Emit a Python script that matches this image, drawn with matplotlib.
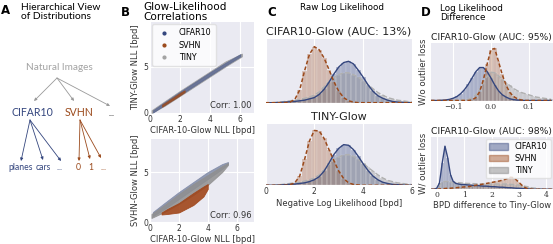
import matplotlib
matplotlib.use('Agg')
import matplotlib.pyplot as plt
from matplotlib.lines import Line2D
from matplotlib.patches import Patch
import numpy as np

# ---- colours
C_CIFAR = '#34467e'
C_SVHN = '#9b4a1c'
C_TINY = '#a3a3a3'

# ---- panel B: scatter bands (x, lower edge, upper edge)
b1_cifar_x = [0.2, 1.0, 2.0, 3.0, 4.0, 5.0, 6.0]
b1_cifar_lo = [0.05, 0.9, 1.95, 3.0, 4.05, 5.1, 6.1]
b1_cifar_hi = [0.3, 1.2, 2.3, 3.35, 4.4, 5.4, 6.35]
b1_tiny_x = [0.1, 1.0, 2.0, 3.0, 4.0, 5.0, 6.1]
b1_tiny_lo = [0.0, 0.8, 1.85, 2.9, 3.95, 5.0, 6.1]
b1_tiny_hi = [0.3, 1.3, 2.4, 3.45, 4.5, 5.55, 6.4]
b1_svhn_x = [0.8, 1.2, 1.6, 2.0, 2.3]
b1_svhn_lo = [0.68, 1.1, 1.5, 1.92, 2.25]
b1_svhn_hi = [0.9, 1.32, 1.75, 2.18, 2.45]

b2_cifar_x = [0.2, 1.0, 2.0, 3.0, 4.0, 5.0, 5.4]
b2_cifar_lo = [0.6, 1.3, 2.3, 3.3, 4.3, 5.3, 5.8]
b2_cifar_hi = [1.0, 1.9, 3.0, 4.0, 5.0, 5.8, 6.0]
b2_tiny_x = [0.1, 1.0, 2.0, 3.0, 4.0, 5.0, 5.4]
b2_tiny_lo = [0.4, 1.0, 1.8, 2.7, 3.7, 5.0, 5.7]
b2_tiny_hi = [0.8, 1.7, 2.8, 3.8, 4.7, 5.6, 5.9]
b2_svhn_x = [0.8, 1.2, 2.0, 3.0, 3.7, 4.0]
b2_svhn_lo = [0.75, 0.8, 0.95, 1.7, 2.55, 3.3]
b2_svhn_hi = [0.95, 1.3, 1.9, 2.9, 3.55, 3.8]

# ---- panel C: raw NLL histograms / density (relative heights)
c_x = [0.0, 0.2, 0.4, 0.6, 0.8, 1.0, 1.2, 1.4, 1.6, 1.8, 2.0, 2.2, 2.4, 2.6, 2.8, 3.0,
       3.2, 3.4, 3.6, 3.8, 4.0, 4.2, 4.4, 4.6, 4.8, 5.0, 5.2, 5.4, 5.6, 5.8, 6.0]
c1_cifar = [0, 0, 0, 0.005, 0.01, 0.015, 0.02, 0.03, 0.04, 0.06, 0.08, 0.13, 0.21, 0.32, 0.45, 0.56,
            0.63, 0.65, 0.61, 0.51, 0.40, 0.28, 0.18, 0.11, 0.07, 0.04, 0.02, 0.01, 0.005, 0, 0]
c1_svhn = [0, 0, 0, 0, 0, 0.01, 0.05, 0.2, 0.5, 0.76, 0.88, 0.83, 0.7, 0.52, 0.33, 0.18,
           0.08, 0.03, 0.01, 0, 0, 0, 0, 0, 0, 0, 0, 0, 0, 0, 0]
c1_tiny = [0, 0, 0.005, 0.01, 0.02, 0.03, 0.04, 0.05, 0.07, 0.09, 0.12, 0.17, 0.25, 0.33, 0.39, 0.44,
           0.47, 0.47, 0.44, 0.40, 0.34, 0.28, 0.22, 0.16, 0.12, 0.08, 0.06, 0.04, 0.03, 0.02, 0.01]
c2_cifar = [0, 0, 0, 0.005, 0.01, 0.015, 0.02, 0.03, 0.04, 0.06, 0.09, 0.14, 0.23, 0.36, 0.5, 0.6,
            0.66, 0.65, 0.58, 0.47, 0.35, 0.24, 0.15, 0.09, 0.05, 0.03, 0.015, 0.01, 0.005, 0, 0]
c2_svhn = [0, 0, 0, 0, 0, 0.01, 0.04, 0.15, 0.42, 0.72, 0.89, 0.88, 0.76, 0.58, 0.4, 0.23,
           0.11, 0.04, 0.015, 0.005, 0, 0, 0, 0, 0, 0, 0, 0, 0, 0, 0]
c2_tiny = [0, 0, 0.005, 0.01, 0.02, 0.03, 0.04, 0.05, 0.07, 0.09, 0.12, 0.17, 0.25, 0.34, 0.41, 0.46,
           0.49, 0.5, 0.47, 0.42, 0.36, 0.29, 0.23, 0.17, 0.12, 0.08, 0.06, 0.04, 0.03, 0.02, 0.01]

# ---- panel D top: likelihood difference without outlier loss
d1_x = [-0.16, -0.15, -0.14, -0.13, -0.12, -0.11, -0.10, -0.09, -0.08, -0.07, -0.06,
        -0.05, -0.04, -0.03, -0.02, -0.01, 0.0, 0.01, 0.02, 0.03, 0.04, 0.05, 0.06,
        0.07, 0.08, 0.09, 0.10, 0.11, 0.12, 0.13, 0.14, 0.15, 0.16]
d1_cifar = [0, 0, 0, 0.005, 0.01, 0.02, 0.04, 0.07, 0.12, 0.19, 0.28,
            0.39, 0.5, 0.57, 0.57, 0.5, 0.39, 0.27, 0.17, 0.1, 0.06, 0.03, 0.015,
            0.008, 0.004, 0, 0, 0, 0, 0, 0, 0, 0]
d1_svhn = [0, 0, 0, 0, 0, 0, 0, 0, 0, 0, 0,
           0.01, 0.05, 0.15, 0.36, 0.63, 0.88, 0.9, 0.68, 0.45, 0.27, 0.14, 0.07,
           0.03, 0.01, 0, 0, 0, 0, 0, 0, 0, 0]
d1_tiny = [0, 0, 0, 0, 0, 0, 0.005, 0.005, 0.01, 0.01, 0.02,
           0.05, 0.1, 0.18, 0.3, 0.42, 0.49, 0.48, 0.43, 0.37, 0.31, 0.26, 0.21,
           0.17, 0.14, 0.12, 0.1, 0.08, 0.06, 0.05, 0.04, 0.03, 0.02]

# ---- panel D bottom: BPD difference with outlier loss
d2_x = [-0.2, -0.1, 0.0, 0.1, 0.2, 0.3, 0.4, 0.5, 0.6, 0.7, 0.8, 0.9, 1.0, 1.1, 1.2,
        1.3, 1.4, 1.5, 1.6, 1.7, 1.8, 1.9, 2.0, 2.1, 2.2, 2.3, 2.4, 2.5, 2.6, 2.7,
        2.8, 2.9, 3.0, 3.1, 3.2, 3.3, 3.4, 3.5, 3.6, 3.7, 3.8, 3.9, 4.0, 4.1, 4.2]
d2_cifar = [0, 0, 0.02, 0.12, 0.5, 0.82, 0.6, 0.28, 0.15, 0.11, 0.1, 0.09, 0.09, 0.085, 0.08,
            0.075, 0.07, 0.07, 0.065, 0.06, 0.06, 0.055, 0.05, 0.05, 0.045, 0.04, 0.04, 0.035, 0.03, 0.03,
            0.025, 0.02, 0.02, 0.015, 0.01, 0.01, 0.005, 0, 0, 0, 0, 0, 0, 0, 0]
d2_svhn = [0, 0, 0, 0.005, 0.01, 0.015, 0.02, 0.02, 0.025, 0.03, 0.035, 0.04, 0.045, 0.05, 0.055,
           0.065, 0.075, 0.085, 0.09, 0.1, 0.11, 0.12, 0.13, 0.14, 0.15, 0.16, 0.175, 0.19, 0.21, 0.23,
           0.22, 0.18, 0.13, 0.08, 0.04, 0.015, 0.005, 0, 0, 0, 0, 0, 0, 0, 0]
d2_tiny = [0, 0, 0.02, 0.08, 0.13, 0.15, 0.15, 0.14, 0.135, 0.13, 0.125, 0.12, 0.115, 0.112, 0.11,
           0.108, 0.106, 0.104, 0.102, 0.1, 0.1, 0.1, 0.1, 0.1, 0.1, 0.1, 0.1, 0.1, 0.1, 0.095,
           0.09, 0.085, 0.08, 0.07, 0.06, 0.05, 0.035, 0.025, 0.02, 0.012, 0.008, 0.005, 0, 0, 0]

W, H = 553, 244
plt.rcParams['font.family'] = 'DejaVu Sans'
fig = plt.figure(figsize=(W / 100, H / 100), dpi=100)


def px_axes(l, t, r, b):
    return fig.add_axes([l / W, 1 - b / H, (r - l) / W, (b - t) / H])


def style(ax):
    ax.set_facecolor('#EAEAF2')
    for s in ax.spines.values():
        s.set_visible(False)
    ax.grid(True, color='white', lw=0.8)
    ax.set_axisbelow(True)
    ax.tick_params(length=0, pad=1.5, labelsize=5.5, labelcolor='#333333')


def ftext(x, y, s, **kw):
    fig.text(x / W, 1 - y / H, s, **kw)


# ---------------- panel headers
ftext(1, 10, 'A', fontsize=8.5, fontweight='bold', va='center')
ftext(21, 12, 'Hierarchical View\nof Distributions', fontsize=7.4, family='Lato', va='center',
      linespacing=1.1)
ftext(121, 12, 'B', fontsize=8.5, fontweight='bold', va='center')
ftext(143, 12, 'Glow-Likelihood\nCorrelations', fontsize=7.6, va='center', linespacing=1.05)
ftext(267, 12, 'C', fontsize=8.5, fontweight='bold', va='center')
ftext(300, 8, 'Raw Log Likelihood', fontsize=6.3, va='center')
ftext(421, 12, 'D', fontsize=8.5, fontweight='bold', va='center')
ftext(440, 13, 'Log Likelihood\nDifference', fontsize=6.3, va='center', linespacing=1.1)

# ---------------- panel A: tree
axA = fig.add_axes([0, 0, 130 / W, 1])
axA.set_xlim(0, 130)
axA.set_ylim(H, 0)
axA.axis('off')
nodes = {
    'Natural Images': ((59, 68), C_TINY, 7.2),
    'CIFAR10': ((32, 113), C_CIFAR, 7.6),
    'SVHN': ((79, 113), C_SVHN, 7.6),
    '...': ((112, 113), '#333333', 6),
}
for name, ((x, y), col, fs) in nodes.items():
    axA.text(x, y, name, ha='center', va='center', color=col, fontsize=fs, family='Lato')
leaves = [('planes', 21, C_CIFAR), ('cars', 43.5, C_CIFAR), ('...', 60, C_CIFAR),
          ('0', 78, C_SVHN), ('1', 90.5, C_SVHN), ('...', 103.5, C_SVHN)]
for s, x, col in leaves:
    axA.text(x, 167, s, ha='center', va='center', color=col, fontsize=6.2, family='Lato')


def arrow(p0, p1, col):
    axA.annotate('', xy=p1, xytext=p0,
                 arrowprops=dict(arrowstyle='-|>', color=col, lw=0.6, mutation_scale=4,
                                 shrinkA=0, shrinkB=0))


for tgt in [(34, 101), (74, 101), (110, 106)]:
    arrow((57, 78), tgt, '#999999')
for tgt in [(21, 161), (43, 160), (61, 161)]:
    arrow((30, 120), tgt, C_CIFAR)
for tgt in [(79, 161), (90, 159), (101, 158)]:
    arrow((80, 120), tgt, C_SVHN)

# ---------------- panel B
axB1 = px_axes(150, 22, 254, 113)
axB2 = px_axes(150, 139, 254, 222)
bands = [
    (axB1, [(b1_tiny_x, b1_tiny_lo, b1_tiny_hi, '#9a9a9a', 0.8),
            (b1_cifar_x, b1_cifar_lo, b1_cifar_hi, '#56648f', 0.75),
            (b1_svhn_x, b1_svhn_lo, b1_svhn_hi, '#9b4a1c', 0.8)],
     'TINY-Glow NLL [bpd]', 'Corr: 1.00', (0, 6.9), (0, 9.8)),
    (axB2, [(b2_cifar_x, b2_cifar_lo, b2_cifar_hi, '#7b86a3', 0.8),
            (b2_tiny_x, b2_tiny_lo, b2_tiny_hi, '#8f8f8f', 0.85),
            (b2_svhn_x, b2_svhn_lo, b2_svhn_hi, '#a0461a', 0.9)],
     'SVHN-Glow NLL [bpd]', 'Corr: 0.96', (0, 7.2), (0, 8.3)),
]
for ax, layers, ylab, corr, xl, yl in bands:
    style(ax)
    for bx, lo, hi, col, a in layers:
        ax.fill_between(bx, lo, hi, color=col, alpha=a, lw=0.6, edgecolor=col)
    ax.set_xlim(*xl)
    ax.set_ylim(*yl)
    ax.set_xticks([0, 2, 4, 6])
    ax.set_yticks([0, 5])
    ax.set_xlabel('CIFAR-10-Glow NLL [bpd]', fontsize=6, labelpad=1.5, color='#333333')
    ax.set_ylabel(ylab, fontsize=6, labelpad=2, color='#333333')
    ax.text(0.98, 0.03, corr, transform=ax.transAxes, ha='right', va='bottom',
            fontsize=6, color='#333333')

handles = [Line2D([], [], ls='', marker='o', ms=2, color=c) for c in (C_CIFAR, C_SVHN, C_TINY)]
axB1.legend(handles, ['CIFAR10', 'SVHN', 'TINY'], loc='upper left', fontsize=5.8,
            frameon=True, framealpha=0.8, edgecolor='#dddddd', handletextpad=0.8,
            borderpad=0.5, labelspacing=0.4, borderaxespad=0.3)


# ---------------- panels C and D: histograms with density lines
def dist(ax, x, cifar, svhn, tiny, step):
    style(ax)
    ax.bar(x, cifar, width=step, color=C_CIFAR, alpha=0.35, edgecolor='white', lw=0.3)
    ax.bar(x, svhn, width=step, color=C_SVHN, alpha=0.3, edgecolor='white', lw=0.3)
    ax.bar(x, tiny, width=step, color='#8c8c8c', alpha=0.35, edgecolor='white', lw=0.3)
    ax.plot(x, tiny, color='#b0b0b0', lw=1.0, ls='--')
    ax.plot(x, cifar, color=C_CIFAR, lw=1.0)
    ax.plot(x, svhn, color=C_SVHN, lw=1.1, ls='--', dashes=(2.5, 1.5))
    ax.set_yticks([])
    ax.set_ylim(0, 1.0)


axC1 = px_axes(265.5, 39, 412, 102.7)
axC2 = px_axes(265.5, 123.7, 412, 185.3)
for ax, cif, sv, ti, title in [(axC1, c1_cifar, c1_svhn, c1_tiny, 'CIFAR10-Glow (AUC: 13%)'),
                               (axC2, c2_cifar, c2_svhn, c2_tiny, 'TINY-Glow')]:
    dist(ax, c_x, cif, sv, ti, 0.2)
    ax.set_xlim(0, 6)
    ax.set_xticks([0, 2, 4, 6])
    ax.set_title(title, fontsize=8, pad=3, color='#222222')
axC1.set_xticklabels([])
axC2.set_xlabel('Negative Log Likelihood [bpd]', fontsize=6, labelpad=2, color='#333333')

axD1 = px_axes(430.7, 42.7, 553, 100.5)
axD2 = px_axes(430.7, 136.7, 553, 189.3)
dist(axD1, d1_x, d1_cifar, d1_svhn, d1_tiny, 0.01)
axD1.set_xlim(-0.16, 0.165)
axD1.set_xticks([-0.1, 0.0, 0.1])
axD1.set_xticklabels(['\u22120.1', '0.0', '0.1'], family='DejaVu Serif')
axD1.set_title('CIFAR10-Glow (AUC: 95%)', fontsize=6.7, pad=2, color='#222222')
axD1.set_ylabel('W/o outlier loss', fontsize=6.2, labelpad=2, color='#333333')

dist(axD2, d2_x, d2_cifar, d2_svhn, d2_tiny, 0.1)
axD2.set_xlim(-0.22, 4.24)
axD2.set_xticks([0, 1, 2, 3, 4])
axD2.set_xticklabels(['0', '1', '2', '3', '4'], family='DejaVu Serif')
axD2.set_title('CIFAR10-Glow (AUC: 98%)', fontsize=6.7, pad=2, color='#222222')
axD2.set_ylabel('W/ outlier loss', fontsize=6.2, labelpad=2, color='#333333')
axD2.set_xlabel('BPD difference to Tiny-Glow', fontsize=6, labelpad=1.5, color='#333333')
patches = [Patch(color=c, alpha=a) for c, a in ((C_CIFAR, 0.45), (C_SVHN, 0.45), ('#8c8c8c', 0.5))]
axD2.legend(patches, ['CIFAR10', 'SVHN', 'TINY'], loc='upper right', fontsize=5.8,
            frameon=True, framealpha=0.8, edgecolor='#dddddd', handlelength=2.4,
            handleheight=0.8, borderpad=0.4, labelspacing=0.35, borderaxespad=0.3)

fig.savefig('out.png', dpi=100)
print('Saved: out.png')
